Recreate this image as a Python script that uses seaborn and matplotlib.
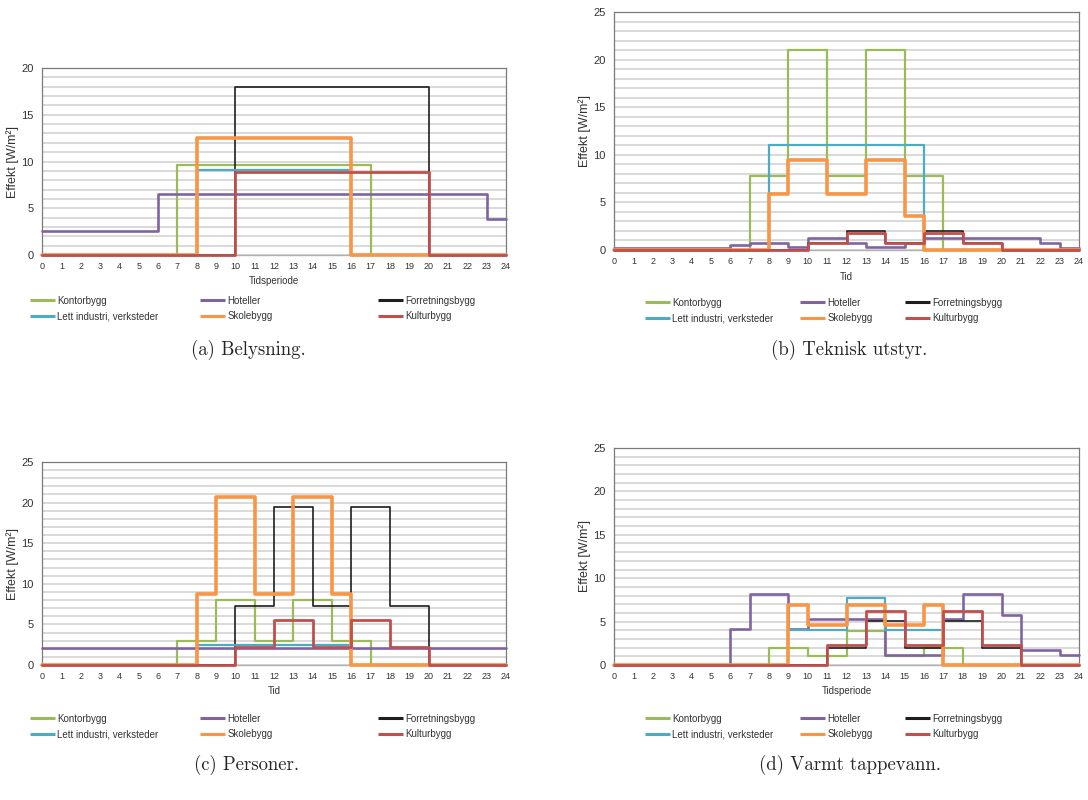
import matplotlib
matplotlib.use("Agg")
import matplotlib.pyplot as plt
import seaborn as sns
import pandas as pd
from matplotlib.lines import Line2D

# ---------------- data ----------------
series_names = ["Kontorbygg", "Hoteller", "Forretningsbygg",
                "Lett industri, verksteder", "Skolebygg", "Kulturbygg"]
hour_ticks = list(range(25))

# (a) Belysning  (hourly values, hour 0..23)
kontor_a = [0, 0, 0, 0, 0, 0, 0, 9.6, 9.6, 9.6, 9.6, 9.6, 9.6, 9.6, 9.6, 9.6, 9.6, 0, 0, 0, 0, 0, 0, 0]
hotell_a = [2.6, 2.6, 2.6, 2.6, 2.6, 2.6, 6.5, 6.5, 6.5, 6.5, 6.5, 6.5, 6.5, 6.5, 6.5, 6.5, 6.5, 6.5, 6.5, 6.5, 6.5, 6.5, 6.5, 3.85]
forret_a = [0, 0, 0, 0, 0, 0, 0, 0, 0, 0, 18, 18, 18, 18, 18, 18, 18, 18, 18, 18, 0, 0, 0, 0]
lett_a = [0, 0, 0, 0, 0, 0, 0, 0, 9.1, 9.1, 9.1, 9.1, 9.1, 9.1, 9.1, 9.1, 0, 0, 0, 0, 0, 0, 0, 0]
skole_a = [0, 0, 0, 0, 0, 0, 0, 0, 12.5, 12.5, 12.5, 12.5, 12.5, 12.5, 12.5, 12.5, 0, 0, 0, 0, 0, 0, 0, 0]
kultur_a = [0, 0, 0, 0, 0, 0, 0, 0, 0, 0, 8.85, 8.85, 8.85, 8.85, 8.85, 8.85, 8.85, 8.85, 8.85, 8.85, 0, 0, 0, 0]

# (b) Teknisk utstyr
kontor_b = [0, 0, 0, 0, 0, 0, 0, 7.8, 7.8, 21, 21, 7.8, 7.8, 21, 21, 7.8, 7.8, 0, 0, 0, 0, 0, 0, 0]
hotell_b = [0.25, 0.25, 0.25, 0.25, 0.25, 0.25, 0.55, 0.7, 0.7, 0.3, 1.3, 1.3, 0.7, 0.35, 0.35, 0.7, 1.3, 1.3, 1.3, 1.3, 1.3, 1.3, 0.7, 0.2]
forret_b = [0, 0, 0, 0, 0, 0, 0, 0, 0, 0, 0.7, 0.7, 2.0, 2.0, 0.7, 0.7, 2.0, 2.0, 0.7, 0.7, 0, 0, 0, 0]
lett_b = [0, 0, 0, 0, 0, 0, 0, 0, 11, 11, 11, 11, 11, 11, 11, 11, 0, 0, 0, 0, 0, 0, 0, 0]
skole_b = [0, 0, 0, 0, 0, 0, 0, 0, 5.9, 9.5, 9.5, 5.9, 5.9, 9.5, 9.5, 3.6, 0, 0, 0, 0, 0, 0, 0, 0]
kultur_b = [0, 0, 0, 0, 0, 0, 0, 0, 0, 0, 0.7, 0.7, 1.8, 1.8, 0.7, 0.7, 1.8, 1.8, 0.7, 0.7, 0, 0, 0, 0]

# (c) Personer
kontor_c = [0, 0, 0, 0, 0, 0, 0, 3.0, 3.0, 8.0, 8.0, 3.0, 3.0, 8.0, 8.0, 3.0, 3.0, 0, 0, 0, 0, 0, 0, 0]
hotell_c = [2.1, 2.1, 2.1, 2.1, 2.1, 2.1, 2.1, 2.1, 2.1, 2.1, 2.1, 2.1, 2.1, 2.1, 2.1, 2.1, 2.1, 2.1, 2.1, 2.1, 2.1, 2.1, 2.1, 2.1]
forret_c = [0, 0, 0, 0, 0, 0, 0, 0, 0, 0, 7.3, 7.3, 19.5, 19.5, 7.3, 7.3, 19.5, 19.5, 7.3, 7.3, 0, 0, 0, 0]
lett_c = [0, 0, 0, 0, 0, 0, 0, 0, 2.45, 2.45, 2.45, 2.45, 2.45, 2.45, 2.45, 2.45, 0, 0, 0, 0, 0, 0, 0, 0]
skole_c = [0, 0, 0, 0, 0, 0, 0, 0, 8.8, 20.7, 20.7, 8.8, 8.8, 20.7, 20.7, 8.8, 0, 0, 0, 0, 0, 0, 0, 0]
kultur_c = [0, 0, 0, 0, 0, 0, 0, 0, 0, 0, 2.2, 2.2, 5.5, 5.5, 2.2, 2.2, 5.5, 5.5, 2.2, 2.2, 0, 0, 0, 0]

# (d) Varmt tappevann
kontor_d = [0, 0, 0, 0, 0, 0, 0, 0, 2.0, 2.0, 1.0, 1.0, 3.9, 3.9, 1.0, 1.0, 2.0, 2.0, 0, 0, 0, 0, 0, 0]
hotell_d = [0, 0, 0, 0, 0, 0, 4.2, 8.2, 8.2, 4.2, 5.3, 5.3, 5.3, 5.3, 1.2, 1.2, 1.2, 5.3, 8.2, 8.2, 5.8, 1.7, 1.7, 1.2]
forret_d = [0, 0, 0, 0, 0, 0, 0, 0, 0, 0, 0, 2.0, 2.0, 5.1, 5.1, 2.0, 2.0, 5.1, 5.1, 2.0, 2.0, 0, 0, 0]
lett_d = [0, 0, 0, 0, 0, 0, 0, 0, 0, 4.0, 4.0, 4.0, 7.7, 7.7, 4.0, 4.0, 4.0, 0, 0, 0, 0, 0, 0, 0]
skole_d = [0, 0, 0, 0, 0, 0, 0, 0, 0, 6.9, 4.6, 4.6, 6.9, 6.9, 4.6, 4.6, 6.9, 0, 0, 0, 0, 0, 0, 0]
kultur_d = [0, 0, 0, 0, 0, 0, 0, 0, 0, 0, 0, 2.3, 2.3, 6.2, 6.2, 2.3, 2.3, 6.2, 6.2, 2.3, 2.3, 0, 0, 0]

panels = [
    ("a", [kontor_a, hotell_a, forret_a, lett_a, skole_a, kultur_a], 20, "Tidsperiode", "(a) Belysning."),
    ("b", [kontor_b, hotell_b, forret_b, lett_b, skole_b, kultur_b], 25, "Tid", "(b) Teknisk utstyr."),
    ("c", [kontor_c, hotell_c, forret_c, lett_c, skole_c, kultur_c], 25, "Tid", "(c) Personer."),
    ("d", [kontor_d, hotell_d, forret_d, lett_d, skole_d, kultur_d], 25, "Tidsperiode", "(d) Varmt tappevann."),
]

# ---------------- style ----------------
colors = {"Kontorbygg": "#9bbb59", "Hoteller": "#8064a2", "Forretningsbygg": "#1e1e1e",
          "Lett industri, verksteder": "#4bacc6", "Skolebygg": "#f79646", "Kulturbygg": "#c0504d"}
widths = {"Kontorbygg": 1.6, "Hoteller": 1.9, "Forretningsbygg": 1.2,
          "Lett industri, verksteder": 1.6, "Skolebygg": 2.6, "Kulturbygg": 2.0}

sns.set_style("white")
plt.rcParams["font.family"] = ["Liberation Sans", "DejaVu Sans"]

W, H = 1088, 800
fig = plt.figure(figsize=(W / 100, H / 100), dpi=100)

# pixel boxes: left, top, right, bottom
boxes = {"a": (42, 68, 506, 255), "b": (614, 12, 1079, 250),
         "c": (42, 462, 506, 665), "d": (614, 448, 1079, 665)}
legend_cols = {"a": (30, 200, 378), "b": (645, 800, 905),
               "c": (30, 200, 378), "d": (645, 800, 905)}
legend_row1 = {"a": 300, "b": 302, "c": 718, "d": 718}
caption_pos = {"a": (248, 350), "b": (849, 350), "c": (247, 765), "d": (850, 765)}


def px_axes(l, t, r, b):
    return fig.add_axes([l / W, 1 - b / H, (r - l) / W, (b - t) / H])


for key, values, ymax, xlabel, caption in panels:
    ax = px_axes(*boxes[key])
    rows = []
    for name, vals in zip(series_names, values):
        ext = list(vals) + [vals[-1]]
        for h, v in zip(hour_ticks, ext):
            rows.append({"Tid": h, "Effekt": v, "serie": name})
    df = pd.DataFrame(rows)
    sns.lineplot(data=df, x="Tid", y="Effekt", hue="serie", hue_order=series_names,
                 palette=colors, size="serie", size_order=series_names, sizes=widths,
                 estimator=None, drawstyle="steps-post", legend=False, ax=ax,
                 clip_on=False, zorder=3)
    ax.set_xlim(0, 24)
    ax.set_ylim(0, ymax)
    ax.set_xticks(hour_ticks)
    ax.set_xticklabels([str(t) for t in hour_ticks], fontsize=6.5, color="#333333")
    ax.set_yticks(list(range(0, ymax + 1, 5)))
    ax.set_yticks(list(range(0, ymax + 1, 1)), minor=True)
    ax.tick_params(axis="y", which="major", labelsize=8, labelcolor="#333333", length=0, pad=6)
    ax.tick_params(axis="y", which="minor", length=0)
    ax.tick_params(axis="x", length=0, pad=5)
    ax.yaxis.grid(True, which="both", color="#d0d0d0", linewidth=1.1, zorder=0)
    ax.xaxis.grid(False)
    ax.set_axisbelow(True)
    for s in ["left", "top", "right"]:
        ax.spines[s].set_color("#7a7a7a")
        ax.spines[s].set_linewidth(0.9)
    ax.spines["bottom"].set_color("#b0b0b0")
    ax.spines["bottom"].set_linewidth(1.0)
    ax.set_ylabel("Effekt [W/m²]", fontsize=9, color="#333333", labelpad=2)
    ax.set_xlabel(xlabel, fontsize=7, color="#333333", labelpad=4)

    # legend: three columns of two entries
    pairs = [(0, 3), (1, 4), (2, 5)]
    r1 = legend_row1[key]
    for cx, (i, j) in zip(legend_cols[key], pairs):
        hs = [Line2D([], [], color=colors[series_names[k]], lw=2.2, solid_capstyle="butt") for k in (i, j)]
        fig.legend(hs, [series_names[i], series_names[j]], loc="center left",
                   bbox_to_anchor=(cx / W, 1 - (r1 + 8.5) / H), frameon=False,
                   fontsize=7, handlelength=2.6, handletextpad=0.2, borderpad=0,
                   borderaxespad=0, labelspacing=0.6, labelcolor="#333333")

    cxp, cyp = caption_pos[key]
    fig.text(cxp / W, 1 - cyp / H, caption, ha="center", va="center",
             fontsize=13.5, family=["cmr10", "DejaVu Serif"])

fig.savefig("out.png", dpi=100)
